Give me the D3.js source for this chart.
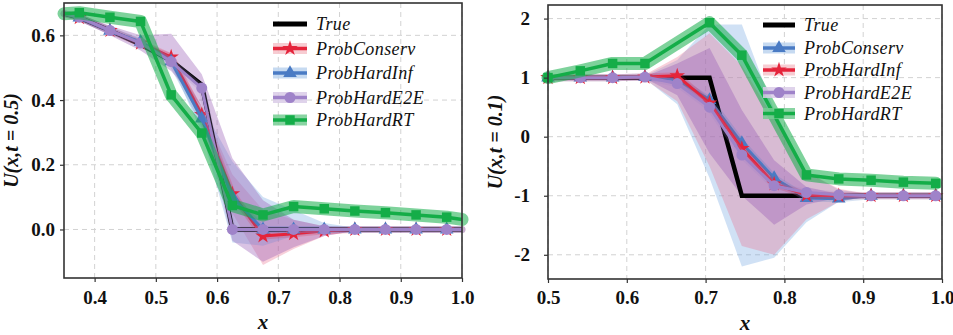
<!DOCTYPE html>
<html><head><meta charset="utf-8">
<script src="https://cdn.jsdelivr.net/npm/d3@7"></script>
<style>body{margin:0;background:#fff} svg{display:block}</style>
</head><body><svg id="c" width="953" height="335"></svg>
<script>
// ---------------- data: left panel, U(x, t = 0.5) ----------------
const leftX      = [0.35, 0.375, 0.425, 0.475, 0.525, 0.575, 0.625, 0.675, 0.725, 0.775, 0.825, 0.875, 0.925, 0.975, 1.0];
const leftTrue   = [0.667, 0.655, 0.615, 0.572, 0.522, 0.447, 0.0, 0.0, 0.0, 0.0, 0.0, 0.0, 0.0, 0.0, 0.0];
const leftConserv   = [0.667, 0.655, 0.615, 0.576, 0.533, 0.355, 0.11, -0.02, -0.013, -0.004, 0.0, 0.0, 0.0, 0.0, 0.0];
const leftConservLo = [0.66, 0.65, 0.61, 0.57, 0.52, 0.33, 0.05, -0.11, -0.06, -0.02, -0.005, 0.0, 0.0, 0.0, 0.0];
const leftConservHi = [0.67, 0.66, 0.62, 0.58, 0.545, 0.38, 0.17, 0.06, 0.03, 0.01, 0.005, 0.0, 0.0, 0.0, 0.0];
const leftInf    = [0.667, 0.655, 0.614, 0.58, 0.52, 0.343, 0.10, 0.0, 0.0, 0.0, 0.0, 0.0, 0.0, 0.0, 0.0];
const leftInfLo  = [0.66, 0.65, 0.61, 0.575, 0.51, 0.30, -0.04, -0.05, -0.02, -0.01, 0.0, 0.0, 0.0, 0.0, 0.0];
const leftInfHi  = [0.67, 0.66, 0.62, 0.585, 0.53, 0.38, 0.21, 0.10, 0.06, 0.02, 0.005, 0.0, 0.0, 0.0, 0.0];
const leftE2E    = [0.667, 0.656, 0.615, 0.576, 0.519, 0.437, 0.0, 0.0, 0.0, 0.0, 0.0, 0.0, 0.0, 0.0, 0.0];
const leftE2ELo  = [0.66, 0.645, 0.60, 0.553, 0.49, 0.38, -0.035, -0.10, -0.055, -0.02, -0.005, 0.0, 0.0, 0.0, 0.0];
const leftE2EHi  = [0.67, 0.665, 0.63, 0.60, 0.605, 0.48, 0.22, 0.09, 0.03, 0.01, 0.005, 0.0, 0.0, 0.0, 0.0];
const leftRT     = [0.667, 0.67, 0.656, 0.643, 0.416, 0.298, 0.074, 0.045, 0.071, 0.064, 0.057, 0.052, 0.045, 0.038, 0.031];

// ---------------- data: right panel, U(x, t = 0.1) ----------------
const rightX       = [0.5, 0.541, 0.582, 0.623, 0.664, 0.705, 0.746, 0.787, 0.828, 0.869, 0.910, 0.951, 0.992];
const rightTrue    = [1, 1, 1, 1, 1, 1, -1, -1, -1, -1, -1, -1, -1];
const rightConserv   = [1.0, 1.0, 1.0, 1.01, 0.97, 0.62, -0.11, -0.70, -1.04, -1.05, -1.0, -1.0, -1.0];
const rightConservLo = [1.0, 1.0, 1.0, 0.98, 0.55, -0.70, -2.2, -2.05, -1.45, -1.1, -1.0, -1.0, -1.0];
const rightConservHi = [1.0, 1.0, 1.0, 1.03, 1.3, 1.9, 1.9, 0.45, -0.6, -0.9, -0.98, -1.0, -1.0];
const rightInf     = [1.0, 1.0, 1.0, 1.01, 1.03, 0.57, -0.2, -0.8, -0.99, -1.0, -1.0, -1.0, -1.0];
const rightInfLo   = [1.0, 1.0, 1.0, 0.97, 0.6, -0.5, -1.85, -2.0, -1.4, -1.1, -1.0, -1.0, -1.0];
const rightInfHi   = [1.0, 1.0, 1.0, 1.05, 1.35, 1.75, 1.2, 0.3, -0.6, -0.88, -0.98, -1.0, -1.0];
const rightE2E     = [1.0, 1.0, 1.0, 1.01, 0.90, 0.50, -0.31, -0.83, -0.945, -0.985, -1.0, -1.0, -1.0];
const rightE2ELo   = [1.0, 1.0, 1.0, 0.99, 0.7, -0.28, -1.0, -1.49, -1.15, -1.03, -1.0, -1.0, -1.0];
const rightE2EHi   = [1.0, 1.0, 1.0, 1.02, 1.24, 1.5, 0.45, -0.4, -0.85, -0.97, -1.0, -1.0, -1.0];
const rightXRT     = [0.5, 0.541, 0.582, 0.623, 0.705, 0.746, 0.828, 0.869, 0.910, 0.951, 0.992];
const rightRT      = [1.0, 1.115, 1.24, 1.24, 1.93, 1.38, -0.647, -0.715, -0.737, -0.77, -0.79];

// ---------------- ticks & labels ----------------
const leftXTicks  = [0.4, 0.5, 0.6, 0.7, 0.8, 0.9, 1.0];
const leftYTicks  = [0.0, 0.2, 0.4, 0.6];
const rightXTicks = [0.5, 0.6, 0.7, 0.8, 0.9, 1.0];
const rightYTicks = [-2, -1, 0, 1, 2];
const leftLegend  = ["True", "ProbConserv", "ProbHardInf", "ProbHardE2E", "ProbHardRT"];
const rightLegend = ["True", "ProbConserv", "ProbHardInf", "ProbHardE2E", "ProbHardRT"];

// ---------------- styles ----------------
const RED = {color:"#e5243b", fill:"rgba(232,110,140,0.32)", patch:"#f6c3ca", symbol:d3.symbolStar, size:75};
const BLUE = {color:"#4a7bc4", fill:"rgba(120,170,225,0.35)", patch:"#bcd3ef", symbol:d3.symbolTriangle, size:80};
const PURP = {color:"#9f83c9", fill:"rgba(150,90,180,0.36)", patch:"#d9cbe8", symbol:d3.symbolCircle, size:95};
const GREEN = {color:"#14ad48", fill:null, patch:"#74cc92", symbol:d3.symbolSquare, size:90};

const svg = d3.select("#c");
const SERIF = "'Liberation Serif','Times New Roman',serif";

function drawPanel(p) {
  const x = d3.scaleLinear().domain(p.xDomain).range([p.L, p.R]);
  const y = d3.scaleLinear().domain(p.yDomain).range([p.B, p.T]);
  const g = svg.append("g");
  // grid
  g.selectAll(null).data(p.xTicks).join("line")
    .attr("x1", d => x(d)).attr("x2", d => x(d)).attr("y1", p.T).attr("y2", p.B)
    .attr("stroke", "#d2d2d2").attr("stroke-width", 1).attr("stroke-dasharray", "5,4");
  g.selectAll(null).data(p.yTicks).join("line")
    .attr("x1", p.L).attr("x2", p.R).attr("y1", d => y(d)).attr("y2", d => y(d))
    .attr("stroke", "#d2d2d2").attr("stroke-width", 1).attr("stroke-dasharray", "5,4");

  const line = d3.line().x(d => x(d[0])).y(d => y(d[1]));
  const area = d3.area().x(d => x(d[0])).y0(d => y(d[1])).y1(d => y(d[2]));

  // uncertainty fills
  p.series.forEach(s => {
    if (!s.lo) return;
    g.append("path").datum(s.x.map((v, i) => [v, s.lo[i], s.hi[i]]))
      .attr("d", area).attr("fill", s.st.fill).attr("stroke", "none");
  });
  // ground truth
  g.append("path").datum(p.trueX.map((v, i) => [v, p.trueY[i]]))
    .attr("d", line).attr("fill", "none").attr("stroke", "#000").attr("stroke-width", 4.5)
    .attr("stroke-linejoin", "miter");
  // model lines
  p.series.forEach(s => {
    const pts = s.x.map((v, i) => [v, s.y[i]]);
    const isG = s.st === GREEN;
    g.append("path").datum(pts).attr("d", line).attr("fill", "none")
      .attr("stroke", s.st.color).attr("stroke-opacity", isG ? 0.55 : 0.22)
      .attr("stroke-width", isG ? 13 : 7).attr("stroke-linecap", "round").attr("stroke-linejoin", "round");
    g.append("path").datum(pts).attr("d", line).attr("fill", "none")
      .attr("stroke", s.st.color).attr("stroke-width", isG ? 3.5 : 3).attr("stroke-linejoin", "round");
    g.selectAll(null).data(pts.filter((d, i) => s.mark(i))).join("path")
      .attr("transform", d => `translate(${x(d[0])},${y(d[1])})`)
      .attr("d", d3.symbol(s.st.symbol, s.st.size)).attr("fill", s.st.color);
  });

  // frame
  g.append("rect").attr("x", p.L).attr("y", p.T).attr("width", p.R - p.L).attr("height", p.B - p.T)
    .attr("fill", "none").attr("stroke", "#333").attr("stroke-width", 1.6);

  // axes
  const ax = g.append("g").attr("transform", `translate(0,${p.B})`)
    .call(d3.axisBottom(x).tickValues(p.xTicks).tickFormat(p.xFmt).tickSize(4).tickPadding(p.xPad));
  const ay = g.append("g").attr("transform", `translate(${p.L},0)`)
    .call(d3.axisLeft(y).tickValues(p.yTicks).tickFormat(p.yFmt).tickSize(4).tickPadding(p.yPad));
  [ax, ay].forEach(a => {
    a.select(".domain").remove();
    a.selectAll(".tick line").attr("stroke", "#333").attr("stroke-width", 1.2);
    a.selectAll("text").attr("font-family", SERIF).attr("font-weight", "bold")
      .attr("font-size", 19).attr("fill", "#111");
  });

  // axis titles
  g.append("text").attr("x", (p.L + p.R) / 2).attr("y", p.B + 51).attr("text-anchor", "middle")
    .attr("font-family", SERIF).attr("font-style", "italic").attr("font-weight", "bold")
    .attr("font-size", 21).attr("fill", "#111").text("x");
  g.append("text").attr("transform", `translate(${p.ylx},${(p.T + p.B) / 2}) rotate(-90)`)
    .attr("text-anchor", "middle").attr("font-family", SERIF).attr("font-style", "italic")
    .attr("font-weight", "bold").attr("font-size", 20).attr("fill", "#111").text(p.ylabel);

  // legend
  const lg = g.append("g");
  p.legend.forEach((name, i) => {
    const yy = p.legY[i];
    const st = p.legSt[i];
    if (st) {
      lg.append("rect").attr("x", p.legX0).attr("y", yy - 5.5).attr("width", p.legX1 - p.legX0).attr("height", 11)
        .attr("fill", st.patch).attr("opacity", 0.85);
      lg.append("line").attr("x1", p.legX0).attr("x2", p.legX1).attr("y1", yy).attr("y2", yy)
        .attr("stroke", st.color).attr("stroke-width", 3.5);
      lg.append("path").attr("transform", `translate(${(p.legX0 + p.legX1) / 2},${yy})`)
        .attr("d", d3.symbol(st.symbol, st.size)).attr("fill", st.color);
    } else {
      lg.append("line").attr("x1", p.legX0).attr("x2", p.legX1).attr("y1", yy).attr("y2", yy)
        .attr("stroke", "#000").attr("stroke-width", 5);
    }
    lg.append("text").attr("x", p.legX1 + 9).attr("y", yy).attr("dy", "0.35em")
      .attr("font-family", SERIF).attr("font-style", "italic").attr("font-size", 18)
      .attr("letter-spacing", 0.4).attr("fill", "#111").text(name);
  });
}

const inner = (n) => (i => i > 0 && i < n - 1);
const all = () => (i => true);

drawPanel({
  L: 64, R: 462, T: 3, B: 278,
  xDomain: [0.35, 1.0], yDomain: [-0.15, 0.70],
  xTicks: leftXTicks, yTicks: leftYTicks,
  xFmt: d3.format(".1f"), yFmt: d3.format(".1f"), xPad: 9, yPad: 5,
  ylabel: "U(x,t = 0.5)", ylx: 18,
  trueX: leftX, trueY: leftTrue,
  series: [
    {x: leftX, y: leftConserv, lo: leftConservLo, hi: leftConservHi, st: RED, mark: inner(leftX.length)},
    {x: leftX, y: leftInf, lo: leftInfLo, hi: leftInfHi, st: BLUE, mark: inner(leftX.length)},
    {x: leftX, y: leftE2E, lo: leftE2ELo, hi: leftE2EHi, st: PURP, mark: inner(leftX.length)},
    {x: leftX, y: leftRT, st: GREEN, mark: inner(leftX.length)}
  ],
  legend: leftLegend, legSt: [null, RED, BLUE, PURP, GREEN],
  legX0: 273, legX1: 307, legY: [24, 48.5, 73, 97.5, 120]
});

drawPanel({
  L: 548, R: 942, T: 5, B: 279,
  xDomain: [0.5, 1.0], yDomain: [-2.41, 2.23],
  xTicks: rightXTicks, yTicks: rightYTicks,
  xFmt: d3.format(".1f"), yFmt: d => String(d), xPad: 8, yPad: 14,
  ylabel: "U(x,t = 0.1)", ylx: 502,
  trueX: rightX, trueY: rightTrue,
  series: [
    {x: rightX, y: rightConserv, lo: rightConservLo, hi: rightConservHi, st: BLUE, mark: all()},
    {x: rightX, y: rightInf, lo: rightInfLo, hi: rightInfHi, st: RED, mark: all()},
    {x: rightX, y: rightE2E, lo: rightE2ELo, hi: rightE2EHi, st: PURP, mark: all()},
    {x: rightXRT, y: rightRT, st: GREEN, mark: all()}
  ],
  legend: rightLegend, legSt: [null, BLUE, RED, PURP, GREEN],
  legX0: 763, legX1: 795, legY: [25, 48, 70, 92.5, 113.5]
});
</script></body></html>
